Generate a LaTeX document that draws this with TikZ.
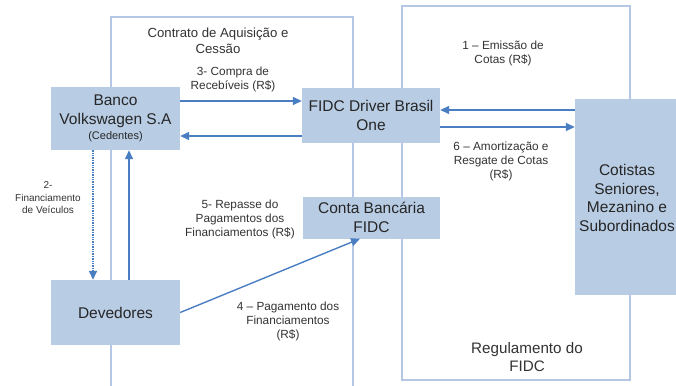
\documentclass[tikz,border=0pt]{standalone}
\usepackage{fontspec}
\setmainfont{Liberation Sans}
\usetikzlibrary{arrows.meta}
\definecolor{boxfill}{HTML}{B8CCE4}
\definecolor{arrcol}{HTML}{4A7EC2}
\definecolor{framecol}{HTML}{B4C8E6}
\definecolor{txt}{HTML}{333333}
\tikzset{
  x=1pt, y=-1pt,
  box/.style={fill=boxfill, draw=none, align=center, inner sep=1pt, font=\fontsize{15.5}{18.5}\selectfont, text=black!85},
  lbl/.style={align=center, font=\fontsize{11.8}{14}\selectfont, text=txt, inner sep=0pt},
  arr/.style={draw=arrcol, line width=1.4pt, -{Triangle[length=9pt,width=8pt]}},
  frame/.style={draw=framecol, line width=1.1pt},
}
\begin{document}
\begin{tikzpicture}
\useasboundingbox (0,0) rectangle (676,385);
\fill[white] (0,0) rectangle (676,385);
% frames
\draw[frame] (111,390) -- (111,17) -- (353,17) -- (353,390);
\draw[frame] (402,6) rectangle (630,380);
% boxes
\node[box, minimum width=129pt, minimum height=63pt] (banco) at (115.5,118.5)
  {Banco\\Volkswagen S.A\\[-3pt]{\fontsize{11}{12}\selectfont (Cedentes)}};
\node[box, minimum width=138pt, minimum height=55pt] (fidc) at (371,115.5) {FIDC Driver Brasil\\One};
\node[box, minimum width=101pt, minimum height=196pt] (cot) at (625.5,197) {};
\node[box, fill=none] (cottext) at (627,198) {Cotistas\\Seniores,\\Mezanino e\\Subordinados};
\node[box, minimum width=137pt, minimum height=42pt] (conta) at (371.5,217.5) {Conta Bancária\\FIDC};
\node[box, minimum width=129pt, minimum height=65pt] (dev) at (115.5,312.5) {Devedores};
% arrows
\draw[arr] ([yshift=17.5pt]banco.east) -- ([yshift=14.5pt]fidc.west);
\draw[arr] ([yshift=-20.5pt]fidc.west) -- ([yshift=-17.5pt]banco.east);
\draw[arr] ([yshift=87pt]cot.west) -- ([yshift=5.5pt]fidc.east);
\draw[arr] ([yshift=-11.5pt]fidc.east) -- ([yshift=70pt]cot.west);
\draw[arr, densely dotted] ([xshift=-22.5pt]banco.south) -- ([xshift=-22.5pt]dev.north);
\draw[arr] ([xshift=13.5pt]dev.north) -- ([xshift=13.5pt]banco.south);
\draw[arr] (dev.east) -- ([xshift=-11.5pt]conta.south);
% labels
\node[lbl, font=\fontsize{13.2}{16}\selectfont] (lcontrato) at (218,41) {Contrato de Aquisição e\\Cessão};
\node[lbl] (l3) at (233,79) {3- Compra de\\Recebíveis (R\$)};
\node[lbl] (l1) at (503,53) {1 – Emissão de\\Cotas (R\$)};
\node[lbl] (l6) at (501,161) {6 – Amortização e\\Resgate de Cotas\\(R\$)};
\node[lbl] (l5) at (240,219) {5- Repasse do\\Pagamentos dos\\Financiamentos (R\$)};
\node[lbl] (l4) at (288,321) {4 – Pagamento dos\\Financiamentos\\(R\$)};
\node[lbl, font=\fontsize{15.2}{18}\selectfont] (lreg) at (527,357) {Regulamento do\\FIDC};
\node[lbl, font=\fontsize{10}{12.5}\selectfont] (l2) at (48,198) {2-\\Financiamento\\de Veículos};
\end{tikzpicture}
\end{document}
